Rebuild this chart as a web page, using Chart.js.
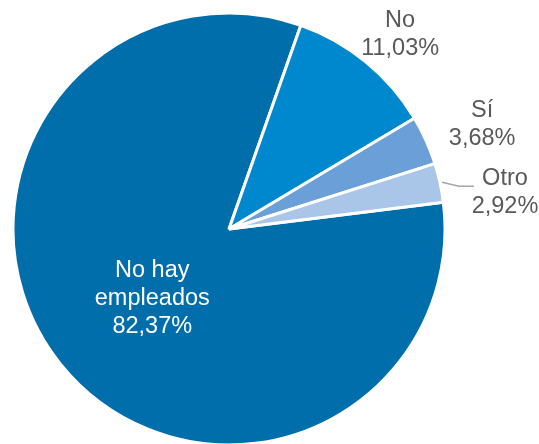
<!DOCTYPE html>
<html lang="es">
<head>
  <meta charset="UTF-8">
  <title>Empleados</title>
  <script src="https://cdn.jsdelivr.net/npm/chart.js"></script>
  <style>
    html, body { margin: 0; padding: 0; background: #fff; }
    #wrap { width: 539px; height: 444px; position: relative; }
  </style>
</head>
<body>
<div id="wrap"><canvas id="pieChart"></canvas></div>

<script>
// datos del gráfico
const categorias = ["No hay empleados", "No", "Sí", "Otro"];
const porcentajes = [82.37, 11.03, 3.68, 2.92];
const colores = ["#006EAB", "#0088CE", "#6A9FD7", "#A9C5E7"];

// líneas de cada etiqueta (nombre + valor)
const lineasEtiqueta = [["No hay", "empleados"], ["No"], ["Sí"], ["Otro"]];

// colocación de las etiquetas: factor de radio + ajuste fino
const colocacion = [
  { f: 0.45, dx: -1, dy: 7, color: "#FFFFFF" },
  { f: 1.2, dx: 7, dy: 4, color: "#595959" },
  { f: 1.27, dx: 3, dy: 6, color: "#595959" },
  { f: 1.27, dx: 8, dy: 20, color: "#595959", guia: true }
];

function fmt(v) {
  return v.toFixed(2).replace(".", ",") + "%";
}

const etiquetasPlugin = {
  id: "etiquetas",
  afterDatasetsDraw(chart) {
    const ctx = chart.ctx;
    const meta = chart.getDatasetMeta(0);
    const fs = 23.5, lh = 28;
    ctx.save();
    ctx.font = fs + "px 'Liberation Sans', Arial, sans-serif";
    ctx.textAlign = "center";
    ctx.textBaseline = "alphabetic";
    meta.data.forEach((arc, i) => {
      const p = arc.getProps(["x", "y", "startAngle", "endAngle", "outerRadius"], true);
      const mid = (p.startAngle + p.endAngle) / 2;
      const c = colocacion[i];
      const cx = p.x + Math.cos(mid) * p.outerRadius * c.f + c.dx;
      const cy = p.y + Math.sin(mid) * p.outerRadius * c.f + c.dy;
      const lines = lineasEtiqueta[i].concat([fmt(porcentajes[i])]);
      const top = cy - (lines.length - 1) * lh / 2;
      ctx.fillStyle = c.color;
      lines.forEach((t, k) => {
        ctx.fillText(t, cx, top + k * lh + fs * 0.358);
      });
      if (c.guia) {
        const sx = p.x + Math.cos(mid) * (p.outerRadius + 2);
        const sy = p.y + Math.sin(mid) * (p.outerRadius + 2);
        ctx.strokeStyle = "#A6A6A6";
        ctx.lineWidth = 1.5;
        ctx.beginPath();
        ctx.moveTo(sx, sy);
        ctx.lineTo(sx + 17, sy + 4);
        ctx.lineTo(sx + 32, sy + 4);
        ctx.stroke();
      }
    });
    ctx.restore();
  }
};

new Chart(document.getElementById("pieChart").getContext("2d"), {
  type: "pie",
  data: {
    labels: categorias,
    datasets: [{
      data: porcentajes,
      backgroundColor: colores,
      borderColor: "#FFFFFF",
      borderWidth: 3
    }]
  },
  options: {
    responsive: true,
    maintainAspectRatio: false,
    animation: false,
    rotation: 82.9,
    radius: 216,
    layout: { padding: { left: 0, right: 81, top: 14, bottom: 0 } },
    plugins: {
      legend: { display: false },
      tooltip: { enabled: false },
      title: { display: false }
    }
  },
  plugins: [etiquetasPlugin]
});
</script>
</body>
</html>
